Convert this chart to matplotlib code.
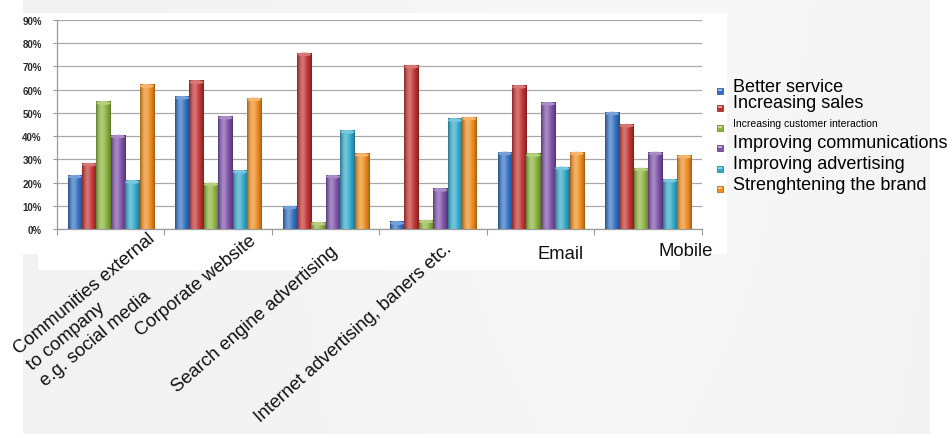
import numpy as np
import matplotlib
matplotlib.use("Agg")
import matplotlib.pyplot as plt
from matplotlib.patches import Rectangle, Ellipse
from matplotlib.ticker import PercentFormatter, FixedLocator
from matplotlib.colors import to_rgb

plt.rcParams['font.family'] = ['Liberation Sans', 'DejaVu Sans']

# ---- data -------------------------------------------------------------
categories = [
    "Communities external\nto company\ne.g. social media",
    "Corporate website",
    "Search engine advertising",
    "Internet advertising, baners etc.",
    "Email",
    "Mobile",
]
series_names = [
    "Better service",
    "Increasing sales",
    "Increasing customer interaction",
    "Improving communications",
    "Improving advertising",
    "Strenghtening the brand",
]
better_service       = [0.233, 0.573, 0.100, 0.033, 0.333, 0.505]
increasing_sales     = [0.285, 0.640, 0.760, 0.707, 0.620, 0.453]
customer_interaction = [0.550, 0.200, 0.030, 0.040, 0.326, 0.264]
communications       = [0.406, 0.487, 0.233, 0.176, 0.547, 0.333]
advertising          = [0.210, 0.254, 0.426, 0.476, 0.269, 0.216]
brand                = [0.623, 0.566, 0.326, 0.483, 0.333, 0.319]
y_ticks = [0.0, 0.1, 0.2, 0.3, 0.4, 0.5, 0.6, 0.7, 0.8, 0.9]

series_values = [better_service, increasing_sales, customer_interaction,
                 communications, advertising, brand]
colors = ["#2f6fc2", "#c2302e", "#8db53c", "#7c4fa9", "#2faacb", "#f18c1d"]

# ---- figure & page background ----------------------------------------
W, H = 953, 439
fig = plt.figure(figsize=(W / 100, H / 100), dpi=100, facecolor="white")


def fx(px):
    return px / W


def fy(py):
    return 1 - py / H


bg = fig.add_axes([0, 0, 1, 1], zorder=-10)
bg.set_xlim(0, W)
bg.set_ylim(H, 0)
bg.axis("off")

# soft grey slide background with a faint diagonal sheen
gx = np.linspace(0, 1, 300)
gy = np.linspace(0, 1, 150)
GX, GY = np.meshgrid(gx, gy)
tone = 0.950 + 0.022 * np.exp(-((GX - 0.65) ** 2) / 0.12) * (1 - 0.3 * GY)
img = np.dstack([tone, tone, tone])
bg.imshow(img, extent=[23, 930, 435, 0], aspect="auto", zorder=0,
          interpolation="bilinear")
# white chart panel
bg.add_patch(Rectangle((23, 14), 704, 241, facecolor="white",
                       edgecolor="none", zorder=1))
bg.add_patch(Rectangle((38, 254), 642, 17, facecolor="white",
                       edgecolor="none", zorder=1))

# ---- chart axes --------------------------------------------------------
ax = fig.add_axes([fx(57), fy(230), fx(702) - fx(57), fy(21) - fy(230)])
ax.set_facecolor("none")

n_series = len(series_values)
bar_w = 0.134
x = np.arange(len(categories))


def shaded(color):
    """Horizontal cylinder-like shading for a bar colour."""
    base = np.array(to_rgb(color))
    t = np.linspace(0, 1, 64)
    light = np.exp(-((t - 0.36) / 0.26) ** 2)
    dark = 0.62 + 0.38 * np.sin(np.pi * t) ** 0.6
    rgb = base[None, :] * dark[:, None]
    rgb = rgb + (1 - rgb) * (0.33 * light[:, None])
    return np.clip(rgb, 0, 1)[None, :, :]


cap_h = 0.016
for s, (vals, col) in enumerate(zip(series_values, colors)):
    offs = (s - (n_series - 1) / 2) * bar_w
    bars = ax.bar(x + offs, vals, width=bar_w, color=col, edgecolor="none",
                  zorder=3)
    grad = shaded(col)
    base = np.array(to_rgb(col))
    cap_col = np.clip(base + (1 - base) * 0.35, 0, 1)
    for b in bars:
        x0, w, h = b.get_x(), b.get_width(), b.get_height()
        im = ax.imshow(grad, extent=[x0, x0 + w, 0, h], aspect="auto",
                       zorder=4, interpolation="bilinear")
        im.set_clip_path(b)
        ax.add_patch(Ellipse((x0 + w / 2, h - cap_h / 2), w * 0.98, cap_h,
                             facecolor=cap_col, edgecolor="none", zorder=5))

ax.set_xlim(-0.5, len(categories) - 0.5)
ax.set_ylim(0, 0.9)
ax.set_yticks(y_ticks)
ax.yaxis.set_major_formatter(PercentFormatter(1.0, decimals=0))
ax.xaxis.set_major_locator(FixedLocator(np.arange(-0.5, len(categories), 1)))
ax.set_xticklabels([])
ax.grid(axis="y", color="#a9a9a9", linewidth=0.9, zorder=0)
ax.set_axisbelow(True)
for side in ("top", "right"):
    ax.spines[side].set_visible(False)
for side in ("left", "bottom"):
    ax.spines[side].set_color("#9a9a9a")
    ax.spines[side].set_linewidth(0.9)
ax.tick_params(axis="y", length=3, color="#9a9a9a", pad=8,
               labelsize=7, labelcolor="#2a2a2a")
ax.tick_params(axis="x", length=4, color="#9a9a9a")
for lab in ax.get_yticklabels():
    lab.set_fontweight("bold")

# ---- category labels (anchored at the baseline start of the last line) --
label_spots = [(43, 384, 40), (140, 337, 39), (177, 393, 41),
               (260, 423, 42), (538, 259, 0), (658, 256, 0)]
for text, (px, py, rot) in zip(categories, label_spots):
    fig.text(fx(px), fy(py), text, fontsize=13.3, color="#111111",
             rotation=rot, rotation_mode="anchor", ha="left",
             va="baseline", multialignment="left", linespacing=1.3)

# ---- legend -------------------------------------------------------------
legend_rows = [(87, 13), (104, 13), (124, 7.5), (144, 13), (165, 13),
               (185, 13)]
for name, col, (py, size) in zip(series_names, colors, legend_rows):
    base = np.array(to_rgb(col))
    bg.add_patch(Rectangle((717, py + 2), 6, 6, facecolor=col,
                           edgecolor=np.clip(base * 0.7, 0, 1),
                           linewidth=0.5, zorder=2))
    bg.add_patch(Rectangle((718, py + 2.5), 4, 2,
                           facecolor=np.clip(base + (1 - base) * 0.5, 0, 1),
                           edgecolor="none", zorder=3))
    fig.text(fx(733), fy(py), name, fontsize=size, color="black",
             ha="left", va="center")

fig.savefig("out.png", dpi=100, facecolor=fig.get_facecolor())
